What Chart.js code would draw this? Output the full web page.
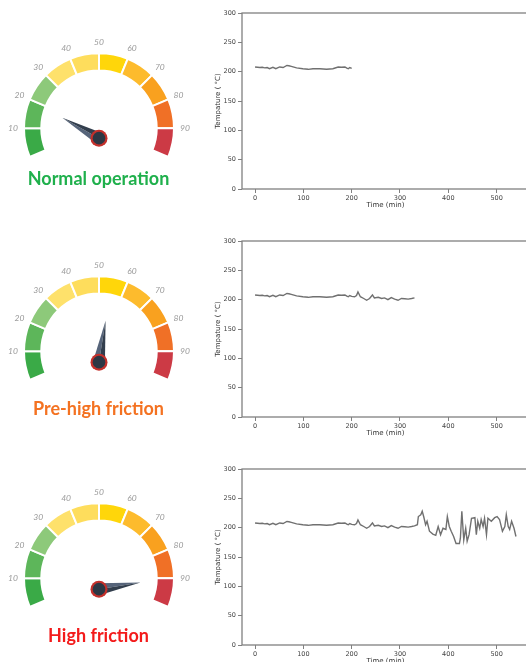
<!DOCTYPE html>
<html>
<head>
<meta charset="utf-8">
<script src="https://cdn.jsdelivr.net/npm/chart.js"></script>
<style>
  html, body { margin: 0; padding: 0; background: #fff; }
  body { width: 526px; height: 662px; overflow: hidden; position: relative; }
  .gauge { position: absolute; left: 0; width: 198px; height: 200px; }
  .trend { position: absolute; left: 200px; width: 340px; height: 219px; }
  .status { position: absolute; left: 0; width: 197px; text-align: center;
            font: 700 18px Lato, sans-serif; line-height: 20px; }
</style>
</head>
<body>
<div class="gauge" style="top:5px"><canvas id="g0"></canvas></div>
<div class="gauge" style="top:227.5px"><canvas id="g1"></canvas></div>
<div class="gauge" style="top:455px"><canvas id="g2"></canvas></div>
<div class="trend" style="top:0px"><canvas id="t0"></canvas></div>
<div class="trend" style="top:228px"><canvas id="t1"></canvas></div>
<div class="trend" style="top:455.6px"><canvas id="t2"></canvas></div>
<div class="status" id="s0" style="top:168px"></div>
<div class="status" id="s1" style="top:398px"></div>
<div class="status" id="s2" style="top:625px"></div>
<script>
// temperature log (time in minutes, temperature in °C)
const timeMin = [0, 5, 10, 15, 20, 25, 30, 37, 43, 51, 58, 66, 70, 75, 86, 99, 110, 120, 134, 148,
  161, 172, 179, 186, 190, 193, 196, 200, 206, 210, 213, 218, 225, 231, 237, 243, 247, 255, 262, 268,
  275, 282, 289, 296, 303, 310, 317, 324, 330, 336, 338, 343, 346, 349, 353, 356, 361, 368, 374, 379,
  384, 389, 395, 398, 402, 406, 411, 416, 423, 425, 428, 432, 436, 439, 443, 448, 455, 458, 461, 465,
  468, 472, 475, 479, 482, 489, 496, 501, 506, 512, 517, 520, 524, 527, 531, 536, 540];
const tempC = [208, 207.5, 207, 207.5, 206.5, 207, 205, 207.5, 205, 208, 207, 210.5, 210, 209, 206.5, 205, 204, 205, 205, 204,
  205, 208, 207.5, 208, 206, 205, 207, 205.5, 205, 207, 213, 205, 202, 199, 202, 208, 203, 204, 202, 203,
  200, 203.5, 201, 199, 202, 201.5, 201, 202, 203, 205, 219, 222, 228, 219, 205, 211, 194, 189, 187, 202,
  188, 199, 197, 219, 202, 194, 185, 173, 173, 182, 228, 179, 199, 177, 188, 216, 217, 188, 211, 199,
  214, 202, 216, 188, 216, 211, 217, 219, 214, 194, 202, 222, 202, 197, 211, 199, 185];
// last minute shown in each row
const rowEndMin = [200, 330, 540];

const xTicks = [0, 100, 200, 300, 400, 500];
const yTicks = [0, 50, 100, 150, 200, 250, 300];

// gauges
const gaugeSegments = [10, 10, 10, 10, 10, 10, 10, 10, 10, 10];
const gaugeTicks = [10, 20, 30, 40, 50, 60, 70, 80, 90];
const gaugeValues = [23, 54, 86];
const statusLabels = ['Normal operation', 'Pre-high friction', 'High friction'];

const segColors = ['#3aaa47', '#5db65a', '#8dc97a', '#fee16b', '#fedd5c',
                   '#ffd60a', '#fdbb2d', '#f9a11f', '#f07026', '#cc3a45'];
const statusColors = ['#1fb04c', '#f47221', '#f31b1b'];

Chart.defaults.font.family = 'DejaVu Sans';
Chart.defaults.animation = false;

const gaugeDecor = {
  id: 'gaugeDecor',
  afterDatasetsDraw(chart, args, opts) {
    const ctx = chart.ctx;
    const arcs = chart.getDatasetMeta(0).data;
    const cx = arcs[0].x, cy = arcs[0].y, r = arcs[0].outerRadius;
    ctx.save();
    // value labels at the segment borders
    ctx.font = 'italic 8.5px Lato';
    ctx.fillStyle = '#9a9a9a';
    ctx.textAlign = 'center';
    ctx.textBaseline = 'middle';
    gaugeTicks.forEach((t, i) => {
      const a = arcs[i].endAngle;
      ctx.fillText(String(t), cx + Math.cos(a) * (r + 11), cy + Math.sin(a) * (r + 11));
    });
    // needle
    const start = arcs[0].startAngle;
    const end = arcs[arcs.length - 1].endAngle;
    const a = start + (end - start) * opts.value / 100;
    const hx = cx, hy = cy + opts.hubDrop;
    const len = 42, w = 6;
    const tx = hx + Math.cos(a) * len, ty = hy + Math.sin(a) * len;
    const px = -Math.sin(a) * w, py = Math.cos(a) * w;
    ctx.fillStyle = '#56647a';
    ctx.beginPath(); ctx.moveTo(hx - px, hy - py); ctx.lineTo(tx, ty); ctx.lineTo(hx, hy); ctx.closePath(); ctx.fill();
    ctx.fillStyle = '#323e4d';
    ctx.beginPath(); ctx.moveTo(hx + px, hy + py); ctx.lineTo(tx, ty); ctx.lineTo(hx, hy); ctx.closePath(); ctx.fill();
    // hub
    ctx.fillStyle = '#c3302b';
    ctx.beginPath(); ctx.arc(hx, hy, 8.5, 0, Math.PI * 2); ctx.fill();
    ctx.fillStyle = '#2c3744';
    ctx.beginPath(); ctx.arc(hx, hy, 6.3, 0, Math.PI * 2); ctx.fill();
    ctx.restore();
  }
};

const frame = {
  id: 'frame',
  beforeDatasetsDraw(chart) {
    const { ctx, chartArea: a } = chart;
    ctx.save();
    ctx.strokeStyle = '#808080';
    ctx.lineWidth = 1.3;
    ctx.strokeRect(a.left, a.top, a.right - a.left, a.bottom - a.top);
    ctx.restore();
  }
};

for (let i = 0; i < 3; i++) {
  document.getElementById('s' + i).textContent = statusLabels[i];
  document.getElementById('s' + i).style.color = statusColors[i];

  new Chart(document.getElementById('g' + i), {
    type: 'doughnut',
    data: {
      datasets: [{
        data: gaugeSegments,
        backgroundColor: segColors,
        borderColor: '#ffffff',
        borderWidth: 2,
        hoverOffset: 0
      }]
    },
    options: {
      responsive: true,
      maintainAspectRatio: false,
      rotation: -112.5,
      circumference: 225,
      radius: 75,
      cutout: '77%',
      events: [],
      plugins: {
        legend: { display: false },
        tooltip: { enabled: false },
        gaugeDecor: { value: gaugeValues[i], hubDrop: [10, 11, 11][i] }
      }
    },
    plugins: [gaugeDecor]
  });

  const pts = [];
  for (let k = 0; k < timeMin.length; k++) {
    if (timeMin[k] <= rowEndMin[i]) pts.push({ x: timeMin[k], y: tempC[k] });
  }

  new Chart(document.getElementById('t' + i), {
    type: 'line',
    data: {
      datasets: [{
        data: pts,
        borderColor: '#707070',
        borderWidth: 1.4,
        pointRadius: 0,
        tension: 0
      }]
    },
    options: {
      responsive: true,
      maintainAspectRatio: false,
      events: [],
      layout: { padding: { top: 13, right: 11, left: 0, bottom: 0 } },
      plugins: { legend: { display: false }, tooltip: { enabled: false } },
      scales: {
        x: {
          type: 'linear',
          min: -27,
          max: 567,
          afterBuildTicks: s => { s.ticks = xTicks.map(v => ({ value: v })); },
          afterFit: s => { s.height = 30; },
          border: { display: false },
          grid: { drawOnChartArea: false, tickLength: 4, color: '#808080' },
          ticks: { font: { size: 6.5 }, color: '#444', padding: 1, maxRotation: 0 },
          title: { display: true, text: 'Time (min)', font: { size: 7 }, color: '#333',
                   padding: { top: 0, bottom: 10 } }
        },
        y: {
          min: 0,
          max: 300,
          afterBuildTicks: s => { s.ticks = yTicks.map(v => ({ value: v })); },
          afterFit: s => { s.width = 42; },
          border: { display: false },
          grid: { drawOnChartArea: false, tickLength: 4, color: '#808080' },
          ticks: { font: { size: 6.5 }, color: '#444', padding: 2 },
          title: { display: true, text: 'Tempature ( °C)', font: { size: 7 }, color: '#333',
                   padding: { top: 14, bottom: 0 } }
        }
      }
    },
    plugins: [frame]
  });
}
</script>
</body>
</html>
